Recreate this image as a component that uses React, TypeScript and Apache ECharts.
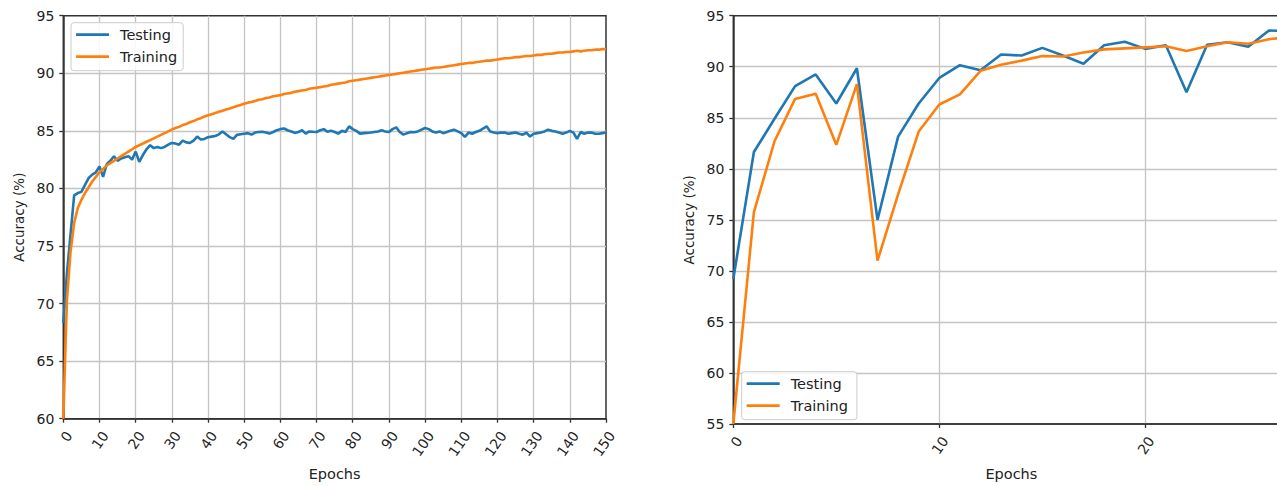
import React, { useEffect, useRef } from "react";
import * as echarts from "echarts";

// ---------- data ----------
const seriesNames = ["Testing", "Training"];
const xAxisName = "Epochs";
const yAxisName = "Accuracy (%)";

// Left panel: epochs 0..150
const leftTesting = [
  68.3, 72.6, 76.0, 79.4, 79.6, 79.7, 80.3, 80.9, 81.2, 81.4,
  81.9, 81.0, 82.1, 82.4, 82.8, 82.4, 82.6, 82.7, 82.8, 82.5,
  83.2, 82.3, 82.9, 83.4, 83.75, 83.5, 83.6, 83.5, 83.6, 83.8,
  83.95, 83.9, 83.8, 84.15, 84.0, 83.95, 84.15, 84.5, 84.25, 84.3,
  84.45, 84.5, 84.55, 84.7, 84.95, 84.7, 84.45, 84.3, 84.65, 84.7,
  84.75, 84.8, 84.68, 84.85, 84.9, 84.92, 84.85, 84.76, 84.9, 85.05,
  85.15, 85.2, 85.05, 84.95, 84.82, 84.9, 85.05, 84.76, 84.95, 84.92,
  84.9, 85.05, 85.15, 84.92, 85.0, 84.9, 84.76, 85.0, 84.9, 85.39,
  85.15, 85.0, 84.76, 84.8, 84.82, 84.85, 84.9, 84.95, 85.05, 84.95,
  84.9, 85.15, 85.3, 84.9, 84.67, 84.8, 84.9, 84.88, 84.95, 85.1,
  85.25, 85.15, 84.95, 84.85, 84.95, 84.8, 84.9, 85.0, 85.1, 84.95,
  84.8, 84.47, 84.85, 84.75, 84.9, 85.0, 85.2, 85.39, 84.95, 84.85,
  84.8, 84.85, 84.85, 84.75, 84.8, 84.85, 84.75, 84.67, 84.85, 84.5,
  84.75, 84.8, 84.85, 84.95, 85.1, 85.0, 84.95, 84.85, 84.75, 84.85,
  85.0, 84.85, 84.3, 84.9, 84.75, 84.85, 84.85, 84.75, 84.75, 84.8, 84.85,
];
const leftTraining = [
  60.0, 70.3, 74.5, 77.0, 78.3, 79.0, 79.6, 80.1, 80.6, 81.0,
  81.4, 81.7, 82.0, 82.2, 82.4, 82.6, 82.8, 83.0, 83.2, 83.4,
  83.6, 83.75, 83.9, 84.05, 84.2, 84.35, 84.5, 84.65, 84.8, 84.95,
  85.1, 85.25, 85.35, 85.5, 85.6, 85.75, 85.85, 86.0, 86.1, 86.25,
  86.35, 86.45, 86.55, 86.65, 86.75, 86.85, 86.95, 87.05, 87.15, 87.25,
  87.35, 87.45, 87.5, 87.6, 87.7, 87.75, 87.85, 87.9, 88.0, 88.05,
  88.1, 88.2, 88.25, 88.3, 88.4, 88.45, 88.5, 88.55, 88.65, 88.7,
  88.75, 88.8, 88.85, 88.9, 89.0, 89.05, 89.1, 89.15, 89.2, 89.3,
  89.35, 89.4, 89.45, 89.5, 89.55, 89.6, 89.65, 89.7, 89.75, 89.8,
  89.85, 89.9, 89.95, 90.0, 90.05, 90.1, 90.15, 90.2, 90.25, 90.3,
  90.35, 90.4, 90.45, 90.5, 90.5, 90.55, 90.6, 90.65, 90.7, 90.75,
  90.8, 90.85, 90.9, 90.9, 90.95, 91.0, 91.05, 91.1, 91.1, 91.15,
  91.2, 91.25, 91.3, 91.3, 91.35, 91.4, 91.4, 91.45, 91.5, 91.5,
  91.55, 91.6, 91.6, 91.65, 91.7, 91.7, 91.75, 91.8, 91.8, 91.85,
  91.85, 91.9, 91.95, 91.9, 91.95, 92.0, 92.0, 92.05, 92.05, 92.1, 92.1,
];

// Right panel: epochs 0..27
const rightTesting = [
  69.2, 81.65, 84.9, 88.1, 89.25, 86.4, 89.85, 75.0, 83.15, 86.4,
  88.9, 90.15, 89.65, 91.2, 91.1, 91.85, 91.1, 90.3, 92.1, 92.45,
  91.75, 92.1, 87.5, 92.15, 92.4, 91.95, 93.55, 93.5,
];
const rightTraining = [
  55.0, 75.75, 82.7, 86.85, 87.35, 82.35, 88.3, 71.0, 77.5, 83.65,
  86.3, 87.3, 89.6, 90.2, 90.6, 91.05, 91.0, 91.4, 91.7, 91.8,
  91.9, 92.0, 91.55, 92.0, 92.4, 92.25, 92.7, 92.9,
];

const leftX = { min: 0, max: 150, interval: 10 };
const leftY = { min: 60, max: 95, interval: 5 };
const rightX = { min: 0, max: 27, interval: 10 };
const rightY = { min: 55, max: 95, interval: 5 };

const BLUE = "#1f77b4";
const ORANGE = "#ff7f0e";
const FONT = "DejaVu Sans";
const TEXT = "#222222";
const SPINE = "#333333";
const GRIDC = "#c4c4c4";

export default function App() {
  const ref = useRef<HTMLDivElement>(null);

  useEffect(() => {
    if (!ref.current) return;
    const chart = echarts.init(ref.current, null, { renderer: "svg" });
    const pts = (arr: number[]) => arr.map((v, i) => [i, v]);

    const xAxisBase = (gridIndex: number, r: any, nameGap: number) => ({
      gridIndex,
      type: "value",
      min: r.min,
      max: r.max,
      interval: r.interval,
      name: xAxisName,
      nameLocation: "middle",
      nameGap,
      nameTextStyle: { fontSize: 14.5, color: TEXT, fontFamily: FONT },
      axisLine: { show: true, lineStyle: { color: SPINE, width: 1.5 } },
      axisTick: { show: true, length: 4, lineStyle: { color: SPINE, width: 1.3 } },
      axisLabel: {
        rotate: 55,
        align: "right",
        verticalAlign: "top",
        margin: 10,
        fontSize: 14,
        color: TEXT,
        fontFamily: FONT,
        showMaxLabel: gridIndex === 0,
      },
      splitLine: {
        show: true,
        showMinLine: false,
        showMaxLine: false,
        lineStyle: { color: GRIDC, width: 1.3 },
      },
    });

    const yAxisBase = (gridIndex: number, r: any) => ({
      gridIndex,
      type: "value",
      min: r.min,
      max: r.max,
      interval: r.interval,
      name: yAxisName,
      nameLocation: "middle",
      nameGap: 37,
      nameTextStyle: { fontSize: 13.5, color: TEXT, fontFamily: FONT },
      axisLine: { show: true, lineStyle: { color: SPINE, width: 1.5 } },
      axisTick: { show: true, length: 4, lineStyle: { color: SPINE, width: 1.3 } },
      axisLabel: { margin: 9, fontSize: 14, color: TEXT, fontFamily: FONT },
      splitLine: {
        show: true,
        showMinLine: false,
        showMaxLine: false,
        lineStyle: { color: GRIDC, width: 1.3 },
      },
    });

    const legendBase = (left: number, top: number, padRight: number) => ({
      show: true,
      data: seriesNames,
      orient: "vertical",
      left,
      top,
      icon: "rect",
      itemWidth: 33,
      itemHeight: 2.8,
      itemGap: 6,
      padding: [4, padRight, 6, 5],
      borderColor: "#cccccc",
      borderWidth: 1,
      borderRadius: 3,
      backgroundColor: "rgba(255,255,255,0.85)",
      selectedMode: false,
      textStyle: {
        fontSize: 14.5,
        color: TEXT,
        fontFamily: FONT,
        lineHeight: 16,
        padding: [0, 0, 0, 6],
      },
    });

    const lineSeries = (name: string, data: number[], color: string, idx: number) => ({
      name,
      type: "line",
      xAxisIndex: idx,
      yAxisIndex: idx,
      data: pts(data),
      symbol: "none",
      showSymbol: false,
      itemStyle: { color },
      lineStyle: { color, width: 2.6 },
      clip: true,
    });

    chart.setOption({
      animation: false,
      backgroundColor: "#ffffff",
      textStyle: { fontFamily: FONT },
      grid: [
        {
          left: 63.3, top: 15.7, width: 542.7, height: 404.3,
          show: true, borderColor: SPINE, borderWidth: 1.5, backgroundColor: "transparent",
          containLabel: false,
        },
        {
          left: 733.3, top: 15.7, width: 556.2, height: 414.3,
          show: true, borderColor: SPINE, borderWidth: 1.5, backgroundColor: "transparent",
          containLabel: false,
        },
      ],
      xAxis: [xAxisBase(0, leftX, 47), xAxisBase(1, rightX, 42)],
      yAxis: [yAxisBase(0, leftY), yAxisBase(1, rightY)],
      legend: [legendBase(71, 22.7, 6), legendBase(741.7, 371.7, 9)],
      tooltip: { show: false },
      series: [
        lineSeries(seriesNames[0], leftTesting, BLUE, 0),
        lineSeries(seriesNames[1], leftTraining, ORANGE, 0),
        lineSeries(seriesNames[0], rightTesting, BLUE, 1),
        lineSeries(seriesNames[1], rightTraining, ORANGE, 1),
      ],
    });

    return () => chart.dispose();
  }, []);

  return (
    <div
      style={{
        position: "fixed",
        left: 0,
        top: 0,
        width: 1277,
        height: 486,
        overflow: "hidden",
        background: "#ffffff",
      }}
    >
      <div ref={ref} style={{ width: 1400, height: 486 }} />
    </div>
  );
}
